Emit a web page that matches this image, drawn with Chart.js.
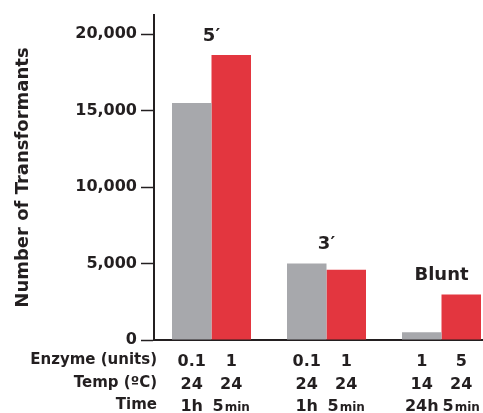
<!DOCTYPE html>
<html>
<head>
<meta charset="utf-8">
<script src="https://cdn.jsdelivr.net/npm/chart.js@4/dist/chart.umd.min.js"></script>
<style>
  html, body { margin: 0; padding: 0; background: #ffffff; overflow: hidden; }
  #wrap { width: 500px; height: 413px; position: relative; }
</style>
</head>
<body>
<div id="wrap"><canvas id="c"></canvas></div>
<script>
// ---- data ----
const groupLabels = ["5\u2032", "3\u2032", "Blunt"];
const grayValues = [15500, 5000, 500];
const redValues = [18650, 4600, 2970];
const yTicks = [0, 5000, 10000, 15000, 20000];
const rowTitles = ["Enzyme (units)", "Temp (\u00BAC)", "Time"];
const grayEnzyme = ["0.1", "0.1", "1"];
const redEnzyme = ["1", "1", "5"];
const grayTemp = ["24", "24", "14"];
const redTemp = ["24", "24", "24"];
const grayTime = ["1h", "1h", "24h"];
const redTime = ["5min", "5min", "5min"];

const INK = '#231f20';
const FONT = '"DejaVu Sans", sans-serif';

function drawMixed(ctx, text, x, y) {
  // "5min": number at full size, unit smaller, sharing one baseline
  const base = y + 6;
  ctx.textBaseline = 'alphabetic';
  const m = text.match(/^([0-9.]+)(min)$/);
  if (!m) {
    ctx.font = 'bold 16px ' + FONT; ctx.textAlign = 'center';
    ctx.fillText(text, x, base);
    return;
  }
  ctx.font = 'bold 16px ' + FONT;
  const w1 = ctx.measureText(m[1]).width;
  ctx.font = 'bold 12px ' + FONT;
  const w2 = ctx.measureText(m[2]).width;
  const start = x - (w1 + w2 + 1) / 2;
  ctx.textAlign = 'left';
  ctx.font = 'bold 16px ' + FONT;
  ctx.fillText(m[1], start, base);
  ctx.font = 'bold 12px ' + FONT;
  ctx.fillText(m[2], start + w1 + 1, base);
}

const labelPlugin = {
  id: 'labels',
  afterDatasetsDraw(chart) {
    const ctx = chart.ctx;
    const g = chart.getDatasetMeta(0).data;
    const r = chart.getDatasetMeta(1).data;
    const area = chart.chartArea;
    ctx.save();
    ctx.fillStyle = INK;
    ctx.textBaseline = 'middle';
    // group labels
    ctx.font = 'bold 18px ' + FONT;
    ctx.textAlign = 'center';
    for (let i = 0; i < groupLabels.length; i++) {
      const top = Math.min(g[i].y, r[i].y);
      const cx = (g[i].x + r[i].x) / 2;
      ctx.fillText(groupLabels[i], cx, top - 19);
    }
    // row titles
    const rowsY = [area.bottom + 20, area.bottom + 43, area.bottom + 65];
    ctx.font = 'bold 15px ' + FONT;
    ctx.textAlign = 'right';
    for (let k = 0; k < rowTitles.length; k++) {
      ctx.fillText(rowTitles[k], area.left + 3, rowsY[k]);
    }
    // bar condition labels
    const rows = [[grayEnzyme, redEnzyme], [grayTemp, redTemp], [grayTime, redTime]];
    for (let k = 0; k < rows.length; k++) {
      for (let i = 0; i < groupLabels.length; i++) {
        drawMixed(ctx, rows[k][0][i], g[i].x, rowsY[k]);
        drawMixed(ctx, rows[k][1][i], r[i].x, rowsY[k]);
      }
    }
    ctx.restore();
  }
};

new Chart(document.getElementById('c'), {
  type: 'bar',
  data: {
    labels: groupLabels,
    datasets: [
      { data: grayValues, backgroundColor: '#a7a8ac', borderWidth: 0, barPercentage: 1, categoryPercentage: 0.687 },
      { data: redValues, backgroundColor: '#e3363f', borderWidth: 0, barPercentage: 1, categoryPercentage: 0.687 }
    ]
  },
  options: {
    responsive: true,
    maintainAspectRatio: false,
    animation: false,
    layout: { padding: { top: 15, bottom: 73, left: 0, right: 1 } },
    plugins: { legend: { display: false }, tooltip: { enabled: false } },
    scales: {
      x: {
        type: 'category',
        grid: { display: false, drawTicks: false },
        border: { display: true, color: INK, width: 2 },
        ticks: { display: false },
        afterFit(s) { s.height = 0; }
      },
      y: {
        min: 0,
        max: 21260,
        afterBuildTicks(s) { s.ticks = yTicks.map(v => ({ value: v })); },
        afterFit(s) { s.width = 154; },
        grid: { display: true, drawOnChartArea: false, drawTicks: true, tickLength: 13, tickColor: INK, tickWidth: 1.5 },
        border: { display: true, color: INK, width: 2 },
        ticks: {
          color: INK,
          padding: 4,
          font: { family: FONT, size: 16, weight: 'bold' },
          callback: v => v.toLocaleString('en-US')
        },
        title: {
          display: true,
          text: 'Number of Transformants',
          color: INK,
          font: { family: FONT, size: 18, weight: 'bold' },
          padding: { top: 13, bottom: 0 }
        }
      }
    }
  },
  plugins: [labelPlugin]
});
</script>
</body>
</html>
